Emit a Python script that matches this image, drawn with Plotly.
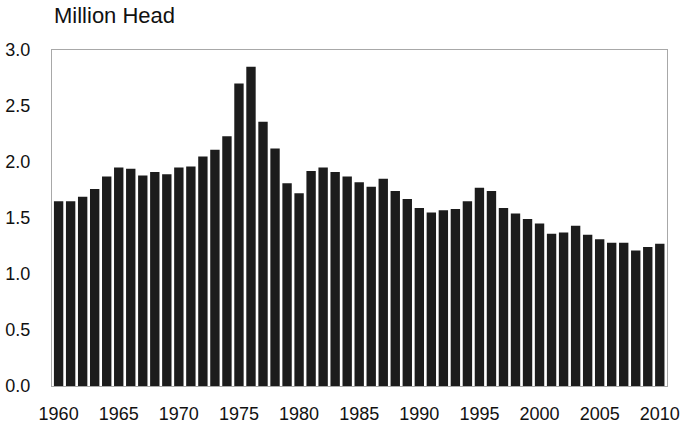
import plotly.graph_objects as go

years = list(range(1960, 2011))
head_million = [
    1.65, 1.65, 1.69, 1.76, 1.87, 1.95, 1.94, 1.88, 1.91, 1.89,
    1.95, 1.96, 2.05, 2.11, 2.23, 2.70, 2.85, 2.36, 2.12, 1.81,
    1.72, 1.92, 1.95, 1.91, 1.87, 1.82, 1.78, 1.85, 1.74, 1.67,
    1.59, 1.55, 1.57, 1.58, 1.65, 1.77, 1.74, 1.59, 1.54, 1.49,
    1.45, 1.36, 1.37, 1.43, 1.35, 1.31, 1.28, 1.28, 1.21, 1.24,
    1.27,
]
x_ticks = list(range(1960, 2011, 5))
y_ticks = [0.0, 0.5, 1.0, 1.5, 2.0, 2.5, 3.0]

font = dict(family="Liberation Sans, Arial, sans-serif", size=18, color="#111111")

fig = go.Figure(go.Bar(
    x=years,
    y=head_million,
    marker=dict(color="#1c1c1c", line=dict(width=0)),
))

fig.update_layout(
    width=682,
    height=426,
    margin=dict(l=52, r=15, t=50, b=40),
    paper_bgcolor="white",
    plot_bgcolor="white",
    bargap=0.22,
    showlegend=False,
    font=font,
    annotations=[dict(
        text="Million Head",
        xref="paper", yref="paper",
        x=0, y=1,
        xanchor="left", yanchor="middle",
        xshift=0, yshift=35,
        showarrow=False,
        font=dict(family=font["family"], size=22, color="#111111"),
    )],
)
fig.update_xaxes(
    range=[1959.45, 2010.6],
    tickvals=x_ticks,
    ticktext=[str(t) for t in x_ticks],
    showgrid=False, automargin=False,
    showline=True, linecolor="#a8a8a8", linewidth=1, mirror=True,
    ticks="", ticklabelstandoff=11,
)
fig.update_yaxes(
    range=[0, 3.0],
    tickvals=y_ticks,
    ticktext=[f"{t:.1f}" for t in y_ticks],
    showgrid=False, zeroline=False, automargin=False,
    showline=True, linecolor="#a8a8a8", linewidth=1, mirror=True,
    ticks="", ticklabelstandoff=17,
)

# drop the default page margin so the figure sits at the window's corner
fig.write_html(
    "out.html",
    config={"displayModeBar": False},
    post_script="document.body.style.margin='0';",
)
